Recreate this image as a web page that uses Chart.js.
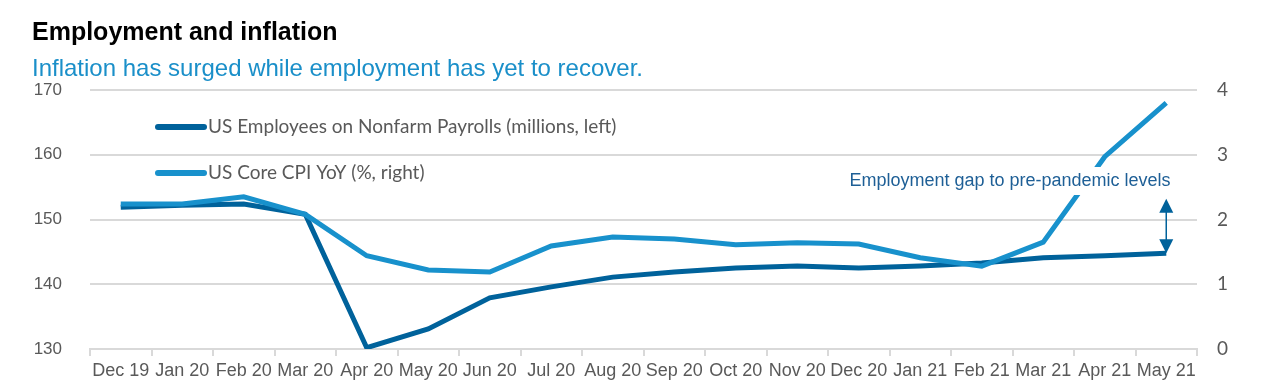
<!DOCTYPE html>
<html>
<head>
<meta charset="utf-8">
<script src="https://cdn.jsdelivr.net/npm/chart.js@4"></script>
<style>
  html, body { margin: 0; padding: 0; background: #fff; }
  #wrap { position: relative; width: 1262px; height: 389px; }
</style>
</head>
<body>
<div id="wrap"><canvas id="chart" width="1262" height="389"></canvas></div>
<script>
const months = ['Dec 19', 'Jan 20', 'Feb 20', 'Mar 20', 'Apr 20', 'May 20', 'Jun 20', 'Jul 20', 'Aug 20',
    'Sep 20', 'Oct 20', 'Nov 20', 'Dec 20', 'Jan 21', 'Feb 21', 'Mar 21', 'Apr 21', 'May 21'];
const payrolls = [151.9, 152.2, 152.4, 150.8, 130.2, 133.1, 137.9, 139.6, 141.1,
    141.9, 142.5, 142.8, 142.5, 142.8, 143.3, 144.1, 144.4, 144.8];
const coreCpi = [2.24, 2.24, 2.35, 2.08, 1.44, 1.22, 1.19, 1.59, 1.73,
    1.70, 1.61, 1.64, 1.62, 1.41, 1.28, 1.65, 2.97, 3.80];
const leftTicks = [130, 140, 150, 160, 170];
const rightTicks = [0, 1, 2, 3, 4];

const darkBlue = '#00629b';
const lightBlue = '#1891cc';
const gridGray = '#d9d9d9';
const labelGray = '#595959';

const headerPlugin = {
    id: 'header',
    afterDraw(chart) {
        const c = chart.ctx;
        c.save();
        c.textBaseline = 'alphabetic';
        c.textAlign = 'left';
        c.fillStyle = '#000';
        c.font = 'bold 25px "Liberation Sans", Arial, sans-serif';
        c.fillText('Employment and inflation', 32, 40);
        c.fillStyle = '#1a8fc9';
        c.font = '24px "Liberation Sans", Arial, sans-serif';
        c.fillText('Inflation has surged while employment has yet to recover.', 32, 76);
        c.restore();
    }
};

const legendPlugin = {
    id: 'inlineLegend',
    afterDatasetsDraw(chart) {
        const c = chart.ctx;
        const items = [
            { text: 'US Employees on Nonfarm Payrolls (millions, left)', color: darkBlue, y: 127 },
            { text: 'US Core CPI YoY (%, right)', color: lightBlue, y: 173 }
        ];
        c.save();
        items.forEach(it => {
            c.strokeStyle = it.color;
            c.lineWidth = 6;
            c.lineCap = 'round';
            c.beginPath();
            c.moveTo(158, it.y);
            c.lineTo(204, it.y);
            c.stroke();
            c.fillStyle = labelGray;
            c.font = '19px Lato, "Open Sans", sans-serif';
            c.textBaseline = 'middle';
            c.fillText(it.text, 208, it.y);
        });
        c.restore();
    }
};

const gapPlugin = {
    id: 'gapNote',
    afterDatasetsDraw(chart) {
        const c = chart.ctx;
        const x = chart.scales.x;
        const yl = chart.scales.yLeft;
        const px = x.getPixelForValue(months.length - 1);
        const top = yl.getPixelForValue(153.2);
        const bottom = yl.getPixelForValue(payrolls[payrolls.length - 1]);
        c.save();
        // white box behind the note, the CPI line breaks under it
        c.font = '18px "Liberation Sans", Arial, sans-serif';
        const text = 'Employment gap to pre-pandemic levels';
        const w = c.measureText(text).width;
        const cx = 1010;
        const cy = 181;
        c.fillStyle = '#fff';
        c.fillRect(cx - w / 2 - 4, cy - 14, w + 8, 28);
        c.fillStyle = '#1e5f96';
        c.textAlign = 'center';
        c.textBaseline = 'middle';
        c.fillText(text, cx, cy);

        c.strokeStyle = darkBlue;
        c.fillStyle = darkBlue;
        c.lineWidth = 1.5;
        c.beginPath();
        c.moveTo(px, top + 10);
        c.lineTo(px, bottom - 10);
        c.stroke();
        c.beginPath();
        c.moveTo(px, top);
        c.lineTo(px - 7, top + 14);
        c.lineTo(px + 7, top + 14);
        c.closePath();
        c.fill();
        c.beginPath();
        c.moveTo(px, bottom);
        c.lineTo(px - 7, bottom - 14);
        c.lineTo(px + 7, bottom - 14);
        c.closePath();
        c.fill();
        c.restore();
    }
};

new Chart(document.getElementById('chart').getContext('2d'), {
    type: 'line',
    data: {
        labels: months,
        datasets: [{
            label: 'US Core CPI YoY (%, right)',
            data: coreCpi,
            yAxisID: 'yRight',
            borderColor: lightBlue,
            borderWidth: 5,
            pointRadius: 0,
            tension: 0,
            fill: false
        }, {
            label: 'US Employees on Nonfarm Payrolls (millions, left)',
            data: payrolls,
            yAxisID: 'yLeft',
            borderColor: darkBlue,
            borderWidth: 5,
            pointRadius: 0,
            tension: 0,
            fill: false
        }]
    },
    options: {
        responsive: false,
        animation: false,
        layout: { padding: { top: 90, left: 0, right: 0, bottom: 0 } },
        plugins: {
            legend: { display: false },
            tooltip: { enabled: false }
        },
        scales: {
            x: {
                offset: true,
                afterFit: s => { s.height = 40; },
                grid: {
                    offset: true,
                    drawOnChartArea: false,
                    drawTicks: true,
                    tickLength: 7,
                    color: gridGray,
                    lineWidth: 2
                },
                border: { color: gridGray, width: 2 },
                ticks: {
                    autoSkip: false,
                    maxRotation: 0,
                    padding: 4,
                    color: labelGray,
                    font: { family: '"Liberation Sans", Arial, sans-serif', size: 18 }
                }
            },
            yLeft: {
                position: 'left',
                min: 130,
                max: 170,
                afterFit: s => { s.width = 90; },
                afterBuildTicks: s => { s.ticks = leftTicks.map(v => ({ value: v })); },
                grid: { color: gridGray, lineWidth: 2, drawTicks: false },
                border: { display: false },
                ticks: {
                    padding: 28,
                    color: labelGray,
                    font: { family: '"Liberation Sans", Arial, sans-serif', size: 17 }
                }
            },
            yRight: {
                position: 'right',
                min: 0,
                max: 4,
                afterFit: s => { s.width = 65; },
                afterBuildTicks: s => { s.ticks = rightTicks.map(v => ({ value: v })); },
                grid: { drawOnChartArea: false, drawTicks: false },
                border: { display: false },
                ticks: {
                    padding: 20,
                    color: labelGray,
                    font: { family: 'Lato, "Open Sans", sans-serif', size: 19 }
                }
            }
        }
    },
    plugins: [headerPlugin, legendPlugin, gapPlugin]
});
</script>
</body>
</html>
